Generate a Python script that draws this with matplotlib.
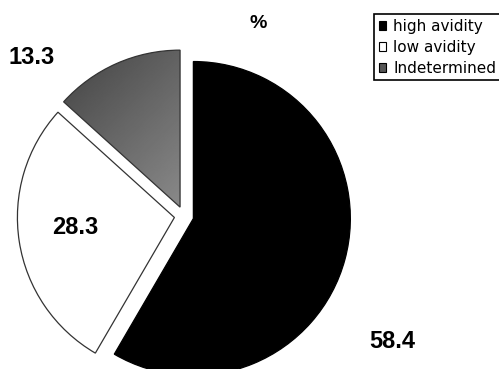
import numpy as np
import matplotlib.pyplot as plt

# avidity share (%)
labels = ['high avidity', 'low avidity', 'Indetermined']
values = [58.4, 28.3, 13.3]
colors = ['black', 'white', '#606060']

plt.rcParams['font.family'] = ['Liberation Sans', 'DejaVu Sans']

fig = plt.figure(figsize=(4.99, 3.69), dpi=100)
ax = fig.add_axes([0, 0, 1, 1])

wedges, _ = ax.pie(values, colors=colors, startangle=90, counterclock=False,
                   explode=[9.7, 9.7, 9.7], radius=157, center=(184, 153),
                   wedgeprops=dict(edgecolor='#333333', linewidth=0.9))
wedges[0].set_edgecolor('black')

# shaded fill for the indetermined slice
gw = wedges[2]
x0, x1, y0, y1 = 10, 200, 140, 330
gx, gy = np.meshgrid(np.linspace(x0, x1, 200), np.linspace(y0, y1, 200))
t = ((gx - x0) / (x1 - x0) + (y1 - gy) / (y1 - y0)) / 2
shade = 0.2 + 0.38 * t
im = ax.imshow(shade, cmap='gray', vmin=0, vmax=1, extent=(x0, x1, y0, y1),
               origin='lower', zorder=gw.get_zorder(), interpolation='bilinear')
im.set_clip_path(gw)
gw.set_facecolor('none')
gw.set_zorder(gw.get_zorder() + 0.1)

ax.set_xlim(0, 499)
ax.set_ylim(0, 369)
ax.set_aspect('auto')
ax.axis('off')

lab_pos = [(392, 27), (75, 142), (32, 311)]
for v, (lx, ly) in zip(values, lab_pos):
    ax.text(lx, ly, f'{v:.1f}', fontsize=17, fontweight='bold',
            ha='center', va='center')
ax.text(258, 346, '%', fontsize=14, fontweight='bold', ha='center', va='center')

leg = fig.legend(wedges, labels, loc='upper left',
                 bbox_to_anchor=(374 / 499, 1 - 14 / 369),
                 prop={'family': 'DejaVu Sans', 'size': 11},
                 handlelength=0.5, handleheight=0.5, handletextpad=0.45,
                 labelspacing=0.4, borderpad=0.3, borderaxespad=0,
                 fancybox=False, shadow=False, framealpha=1)
leg.get_frame().set_edgecolor('black')
leg.get_frame().set_linewidth(1.2)
for h in leg.legend_handles:
    h.set_edgecolor('black')
    h.set_linewidth(0.8)
leg.legend_handles[2].set_facecolor('#555555')

fig.savefig('out.png', dpi=100)
